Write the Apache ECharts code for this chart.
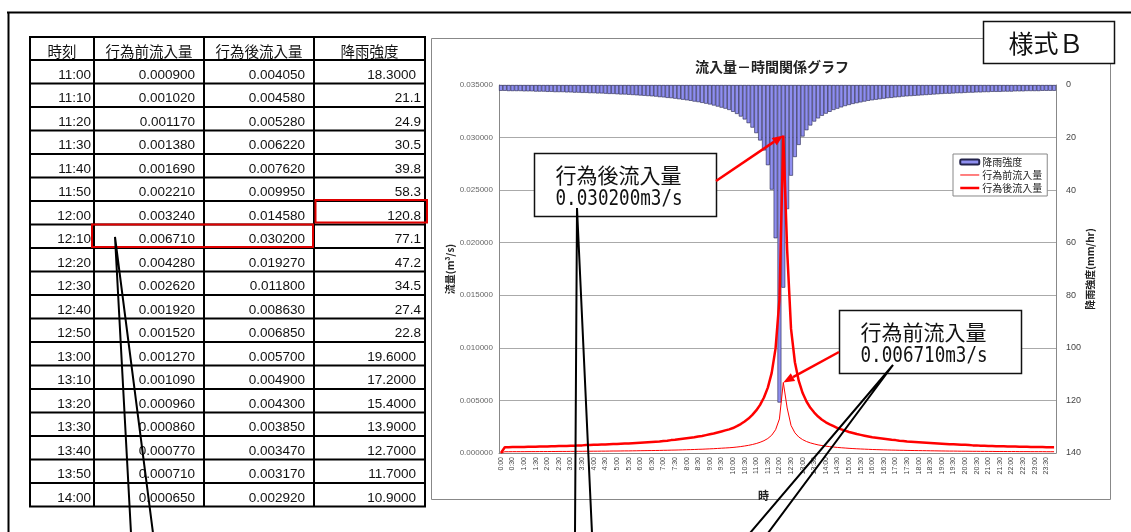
<!DOCTYPE html>
<html>
<head>
<meta charset="utf-8">
<script src="https://cdn.jsdelivr.net/npm/echarts@6/dist/echarts.min.js"></script>
<style>
html, body { margin: 0; padding: 0; background: #fff; }
#main { width: 1131px; height: 532px; }
</style>
</head>
<body>
<div id="main"></div>
<script>
// 降雨強度 (mm/hr) 0:00〜23:50 10分毎
const rain = [
  2.2, 2.2, 2.3, 2.3, 2.3, 2.3,
  2.4, 2.4, 2.4, 2.5, 2.5, 2.5,
  2.6, 2.6, 2.7, 2.7, 2.7, 2.8,
  2.8, 2.9, 2.9, 3.0, 3.0, 3.1,
  3.1, 3.2, 3.2, 3.3, 3.4, 3.4,
  3.5, 3.6, 3.6, 3.7, 3.8, 3.9,
  4.0, 4.1, 4.2, 4.3, 4.4, 4.6,
  4.7, 4.9, 5.0, 5.2, 5.4, 5.6,
  5.8, 6.0, 6.3, 6.5, 6.8, 7.1,
  7.4, 7.8, 8.2, 8.6, 9.0, 9.5,
  10.2, 11.0, 12.0, 13.1, 14.5, 16.2,
  18.3, 21.1, 24.9, 30.5, 39.8, 58.3,
  120.8, 77.1, 47.2, 34.5, 27.4, 22.8,
  19.6, 17.2, 15.4, 13.9, 12.7, 11.7,
  10.9, 10.2, 9.5, 9.0, 8.5, 8.0,
  7.6, 7.2, 6.9, 6.6, 6.3, 6.0,
  5.8, 5.6, 5.4, 5.2, 5.0, 4.9,
  4.7, 4.6, 4.4, 4.3, 4.2, 4.1,
  4.0, 3.9, 3.8, 3.7, 3.6, 3.5,
  3.4, 3.3, 3.3, 3.2, 3.1, 3.1,
  3.0, 2.9, 2.9, 2.8, 2.8, 2.7,
  2.7, 2.6, 2.6, 2.6, 2.5, 2.5,
  2.5, 2.4, 2.4, 2.4, 2.3, 2.3,
  2.3, 2.3, 2.2, 2.2, 2.2, 2.2
]
// 行為前流入量 (m3/s)
const flowBefore = [
  0, 0.000122, 0.000122, 0.000128, 0.000128, 0.000128,
  0.000128, 0.000133, 0.000133, 0.000133, 0.000139, 0.000139,
  0.000139, 0.000144, 0.000144, 0.00015, 0.00015, 0.00015,
  0.000156, 0.000156, 0.000161, 0.000161, 0.000167, 0.000167,
  0.000172, 0.000172, 0.000178, 0.000178, 0.000183, 0.000189,
  0.000189, 0.000194, 0.0002, 0.0002, 0.000206, 0.000211,
  0.000217, 0.000222, 0.000228, 0.000233, 0.000239, 0.000244,
  0.000256, 0.000261, 0.000272, 0.000278, 0.000289, 0.0003,
  0.000311, 0.000322, 0.000333, 0.00035, 0.000361, 0.000378,
  0.000394, 0.000411, 0.000433, 0.000456, 0.000478, 0.0005,
  0.000528, 0.000567, 0.000611, 0.000667, 0.000728, 0.000806,
  0.0009, 0.00102, 0.00117, 0.00138, 0.00169, 0.00221,
  0.00324, 0.00671, 0.00428, 0.00262, 0.00192, 0.00152,
  0.00127, 0.00109, 0.00096, 0.00086, 0.00077, 0.00071,
  0.00065, 0.000606, 0.000567, 0.000528, 0.0005, 0.000472,
  0.000444, 0.000422, 0.0004, 0.000383, 0.000367, 0.00035,
  0.000333, 0.000322, 0.000311, 0.0003, 0.000289, 0.000278,
  0.000272, 0.000261, 0.000256, 0.000244, 0.000239, 0.000233,
  0.000228, 0.000222, 0.000217, 0.000211, 0.000206, 0.0002,
  0.000194, 0.000189, 0.000183, 0.000183, 0.000178, 0.000172,
  0.000172, 0.000167, 0.000161, 0.000161, 0.000156, 0.000156,
  0.00015, 0.00015, 0.000144, 0.000144, 0.000144, 0.000139,
  0.000139, 0.000139, 0.000133, 0.000133, 0.000133, 0.000128,
  0.000128, 0.000128, 0.000128, 0.000122, 0.000122, 0.000122
]
// 行為後流入量 (m3/s)
const flowAfter = [
  0, 0.00055, 0.00055, 0.000575, 0.000575, 0.000575,
  0.000575, 0.0006, 0.0006, 0.0006, 0.000625, 0.000625,
  0.000625, 0.00065, 0.00065, 0.000675, 0.000675, 0.000675,
  0.0007, 0.0007, 0.000725, 0.000725, 0.00075, 0.00075,
  0.000775, 0.000775, 0.0008, 0.0008, 0.000825, 0.00085,
  0.00085, 0.000875, 0.0009, 0.0009, 0.000925, 0.00095,
  0.000975, 0.001, 0.001025, 0.00105, 0.001075, 0.0011,
  0.00115, 0.001175, 0.001225, 0.00125, 0.0013, 0.00135,
  0.0014, 0.00145, 0.0015, 0.001575, 0.001625, 0.0017,
  0.001775, 0.00185, 0.00195, 0.00205, 0.00215, 0.00225,
  0.002375, 0.00255, 0.00275, 0.003, 0.003275, 0.003625,
  0.00405, 0.00458, 0.00528, 0.00622, 0.00762, 0.00995,
  0.01458, 0.0302, 0.01927, 0.0118, 0.00863, 0.00685,
  0.0057, 0.0049, 0.0043, 0.00385, 0.00347, 0.00317,
  0.00292, 0.002725, 0.00255, 0.002375, 0.00225, 0.002125,
  0.002, 0.0019, 0.0018, 0.001725, 0.00165, 0.001575,
  0.0015, 0.00145, 0.0014, 0.00135, 0.0013, 0.00125,
  0.001225, 0.001175, 0.00115, 0.0011, 0.001075, 0.00105,
  0.001025, 0.001, 0.000975, 0.00095, 0.000925, 0.0009,
  0.000875, 0.00085, 0.000825, 0.000825, 0.0008, 0.000775,
  0.000775, 0.00075, 0.000725, 0.000725, 0.0007, 0.0007,
  0.000675, 0.000675, 0.00065, 0.00065, 0.00065, 0.000625,
  0.000625, 0.000625, 0.0006, 0.0006, 0.0006, 0.000575,
  0.000575, 0.000575, 0.000575, 0.00055, 0.00055, 0.00055
]
// 軸目盛
const flowTicks = [0, 0.005, 0.01, 0.015, 0.02, 0.025, 0.03, 0.035]
const rainTicks = [0, 20, 40, 60, 80, 100, 120, 140]

// 表 (11:00〜14:00)
const tableHead = ['時刻', '行為前流入量', '行為後流入量', '降雨強度']
const tableTimes = ['11:00', '11:10', '11:20', '11:30', '11:40', '11:50', '12:00', '12:10', '12:20', '12:30',
  '12:40', '12:50', '13:00', '13:10', '13:20', '13:30', '13:40', '13:50', '14:00']
const tableBefore = ['0.000900', '0.001020', '0.001170', '0.001380', '0.001690', '0.002210', '0.003240', '0.006710', '0.004280', '0.002620',
  '0.001920', '0.001520', '0.001270', '0.001090', '0.000960', '0.000860', '0.000770', '0.000710', '0.000650']
const tableAfter = ['0.004050', '0.004580', '0.005280', '0.006220', '0.007620', '0.009950', '0.014580', '0.030200', '0.019270', '0.011800',
  '0.008630', '0.006850', '0.005700', '0.004900', '0.004300', '0.003850', '0.003470', '0.003170', '0.002920']
const tableRain = ['18.3000', '21.1', '24.9', '30.5', '39.8', '58.3', '120.8', '77.1', '47.2', '34.5',
  '27.4', '22.8', '19.6000', '17.2000', '15.4000', '13.9000', '12.7000', '11.7000', '10.9000']

// 横軸 (10分毎)
const times = []
for (let h = 0; h < 24; h++) {
  for (let m = 0; m < 60; m += 10) {
    times.push(h + ':' + (m < 10 ? '0' + m : m))
  }
}

const JP = "'Noto Sans CJK JP', sans-serif"
const SANS = "'Liberation Sans', 'Noto Sans CJK JP', sans-serif"

let myChart = echarts.init(document.getElementById('main'))

let option = {
  animation: false,
  backgroundColor: '#fff',
  textStyle: { fontFamily: SANS },
  title: {
    text: '流入量－時間関係グラフ',
    left: 690,
    top: 55,
    textStyle: { fontSize: 14, fontWeight: 'bold', color: '#222', fontFamily: JP }
  },
  legend: {
    // 線の凡例は記号なし
    data: [
      { name: '降雨強度' },
      { name: '行為前流入量', itemStyle: { opacity: 0 }, lineStyle: { width: 1 } },
      { name: '行為後流入量', itemStyle: { opacity: 0 }, lineStyle: { width: 2.5 } }
    ],
    orient: 'vertical',
    left: 953,
    top: 154,
    padding: [3, 5, 3, 6],
    itemGap: 3,
    itemWidth: 19,
    itemHeight: 5,
    borderColor: '#888',
    borderWidth: 1,
    backgroundColor: '#fff',
    textStyle: { fontSize: 10, color: '#222', fontFamily: JP, padding: [0, 0, 0, -2] }
  },
  grid: {
    left: 499,
    right: 75,
    top: 85,
    bottom: 79,
    containLabel: false,
    outerBoundsMode: 'none'
  },
  xAxis: {
    type: 'category',
    data: times,
    boundaryGap: true,
    name: '時',
    nameLocation: 'middle',
    nameGap: 37,
    nameTextStyle: { fontSize: 11, fontWeight: 'bold', color: '#222', fontFamily: JP, padding: [0, 28, 0, 0] },
    axisLine: { lineStyle: { color: '#888' } },
    axisTick: { interval: 0, length: 3, lineStyle: { color: '#888' } },
    axisLabel: { interval: 2, rotate: 90, fontSize: 7, color: '#444', margin: 4 }
  },
  yAxis: [
    {
      type: 'value',
      position: 'left',
      min: flowTicks[0],
      max: flowTicks[flowTicks.length - 1],
      interval: flowTicks[1] - flowTicks[0],
      name: '流量(m³/s)',
      nameLocation: 'middle',
      nameRotate: 90,
      nameGap: 44,
      nameTextStyle: { fontSize: 10, fontWeight: 'bold', color: '#222', fontFamily: JP },
      axisLine: { show: true, lineStyle: { color: '#888' } },
      axisTick: { show: false },
      axisLabel: { formatter: (v) => v.toFixed(6), fontSize: 8, color: '#666', margin: 6 },
      splitLine: { show: true, lineStyle: { color: '#aaa', width: 1 } }
    },
    {
      type: 'value',
      position: 'right',
      inverse: true,
      min: rainTicks[0],
      max: rainTicks[rainTicks.length - 1],
      interval: rainTicks[1] - rainTicks[0],
      name: '降雨強度(mm/hr)',
      nameLocation: 'middle',
      nameRotate: 90,
      nameGap: 22,
      nameTextStyle: { fontSize: 10, fontWeight: 'bold', color: '#222', fontFamily: JP },
      axisLine: { show: true, lineStyle: { color: '#888' } },
      axisTick: { show: false },
      axisLabel: { fontSize: 9, color: '#444', margin: 10 },
      splitLine: { show: false }
    }
  ],
  series: [
    {
      name: '降雨強度',
      type: 'bar',
      yAxisIndex: 1,
      barCategoryGap: '0%',
      itemStyle: { color: '#8f8ff0', borderColor: '#22224a', borderWidth: 0.6 },
      data: rain
    },
    {
      name: '行為前流入量',
      type: 'line',
      yAxisIndex: 0,
      symbol: 'none',
      itemStyle: { color: '#ff0000' },
      lineStyle: { color: '#ff0000', width: 1 },
      z: 3,
      data: flowBefore
    },
    {
      name: '行為後流入量',
      type: 'line',
      yAxisIndex: 0,
      symbol: 'none',
      itemStyle: { color: '#ff0000' },
      lineStyle: { color: '#ff0000', width: 2.5 },
      z: 4,
      data: flowAfter
    }
  ]
}
myChart.setOption(option)

// 表
function buildTable () {
  let els = []
  const colX = [30, 94, 204, 314, 425]
  const top = 37
  const headBottom = 60
  const rowH = 23.5
  const n = tableTimes.length
  const bottom = headBottom + rowH * n
  let lineYs = [top, headBottom]
  for (let i = 1; i <= n; i++) lineYs.push(headBottom + rowH * i)
  lineYs.forEach((y) => {
    els.push({ type: 'line', z: 50, shape: { x1: colX[0] - 1, y1: y, x2: colX[4] + 1, y2: y }, style: { stroke: '#000', lineWidth: 2 } })
  })
  colX.forEach((x) => {
    els.push({ type: 'line', z: 50, shape: { x1: x, y1: top, x2: x, y2: bottom }, style: { stroke: '#000', lineWidth: 2 } })
  })
  tableHead.forEach((t, c) => {
    els.push({
      type: 'text', z: 51, x: (colX[c] + colX[c + 1]) / 2, y: 51,
      style: { text: t, fontSize: 14.5, fontFamily: JP, fill: '#111', align: 'center', verticalAlign: 'middle' }
    })
  })
  for (let i = 0; i < n; i++) {
    let y = headBottom + rowH * (i + 1) - 8.5
    let cells = [tableTimes[i], tableBefore[i], tableAfter[i], tableRain[i]]
    let rightX = [colX[1] - 3, colX[2] - 9, colX[3] - 9, tableRain[i].length > 5 ? colX[4] - 9 : colX[4] - 4]
    cells.forEach((t, c) => {
      els.push({
        type: 'text', z: 51, x: rightX[c], y: y,
        style: { text: t, fontSize: 13.5, fontFamily: SANS, fill: '#111', align: 'right', verticalAlign: 'middle' }
      })
    })
  }
  // 赤枠
  let r12 = tableTimes.indexOf('12:00')
  let r1210 = tableTimes.indexOf('12:10')
  els.push({ type: 'rect', z: 52, shape: { x: colX[3] + 1.5, y: headBottom + rowH * r12 - 1, width: colX[4] - colX[3] + 0.5, height: rowH - 1 },
    style: { fill: 'none', stroke: '#e00000', lineWidth: 2 } })
  els.push({ type: 'rect', z: 52, shape: { x: colX[1] - 2, y: headBottom + rowH * r1210, width: colX[3] - colX[1] + 1, height: rowH - 1 },
    style: { fill: 'none', stroke: '#e00000', lineWidth: 2 } })
  return els
}

function arrow (sx, sy, p) {
  let dx = p[0] - sx
  let dy = p[1] - sy
  let len = Math.sqrt(dx * dx + dy * dy)
  let ux = dx / len
  let uy = dy / len
  let bx = p[0] - ux * 11
  let by = p[1] - uy * 11
  return [
    { type: 'line', z: 120, shape: { x1: sx, y1: sy, x2: bx, y2: by }, style: { stroke: '#ff0000', lineWidth: 2.5 } },
    { type: 'polygon', z: 120, shape: { points: [[p[0], p[1]], [bx - uy * 4.5, by + ux * 4.5], [bx + uy * 4.5, by - ux * 4.5]] }, style: { fill: '#ff0000' } }
  ]
}

function callout (x, y, w, h, title, value) {
  return [
    { type: 'rect', z: 110, shape: { x: x, y: y, width: w, height: h }, style: { fill: '#fff', stroke: '#111', lineWidth: 1.5 } },
    { type: 'text', z: 111, x: x + 21, y: y + 22, style: { text: title, fontSize: 21, fontFamily: JP, fill: '#111', align: 'left', verticalAlign: 'middle' } },
    { type: 'text', z: 111, x: x + 21, y: y + 46, scaleX: 0.8, style: { text: value, fontSize: 22, fontFamily: "'DejaVu Sans Mono', monospace", fill: '#111', align: 'left', verticalAlign: 'middle' } }
  ]
}

function wedge (apex, a, b) {
  return { type: 'polyline', z: 130, shape: { points: [a, apex, b] }, style: { stroke: '#000', lineWidth: 2, fill: null } }
}

let peakIdx = times.indexOf('12:10')
let pAfter = myChart.convertToPixel({ seriesIndex: 2 }, [peakIdx, flowAfter[peakIdx]])
let pBefore = myChart.convertToPixel({ seriesIndex: 1 }, [peakIdx, flowBefore[peakIdx]])

let graphics = [
  // グラフ枠
  { type: 'rect', z: -10, shape: { x: 431.5, y: 38.5, width: 679, height: 461 }, style: { fill: '#fff', stroke: '#888', lineWidth: 1 } },
  // 外枠
  { type: 'line', z: 100, shape: { x1: 7, y1: 12.5, x2: 1131, y2: 12.5 }, style: { stroke: '#000', lineWidth: 2 } },
  { type: 'line', z: 100, shape: { x1: 8.5, y1: 12, x2: 8.5, y2: 532 }, style: { stroke: '#000', lineWidth: 2 } },
  // 様式B
  { type: 'rect', z: 110, shape: { x: 983.5, y: 21.5, width: 131, height: 42 }, style: { fill: '#fff', stroke: '#111', lineWidth: 1.5 } },
  { type: 'text', z: 111, x: 1046, y: 43, style: { text: '様式Ｂ', fontSize: 25, fontFamily: JP, fill: '#111', align: 'center', verticalAlign: 'middle' } }
]
graphics = graphics.concat(buildTable())
graphics = graphics.concat(callout(534.5, 153.5, 182, 63, '行為後流入量', '0.030200m3/s'))
graphics = graphics.concat(callout(839.5, 310.5, 182, 63, '行為前流入量', '0.006710m3/s'))
graphics = graphics.concat(arrow(716, 181, pAfter))
graphics = graphics.concat(arrow(839, 352, pBefore))
graphics.push(wedge([115, 237], [131, 533], [153, 533]))
graphics.push(wedge([577, 208], [575, 533], [592, 533]))
graphics.push(wedge([893, 365], [750, 533], [768, 533]))

myChart.setOption({ graphic: graphics })
</script>
</body>
</html>
